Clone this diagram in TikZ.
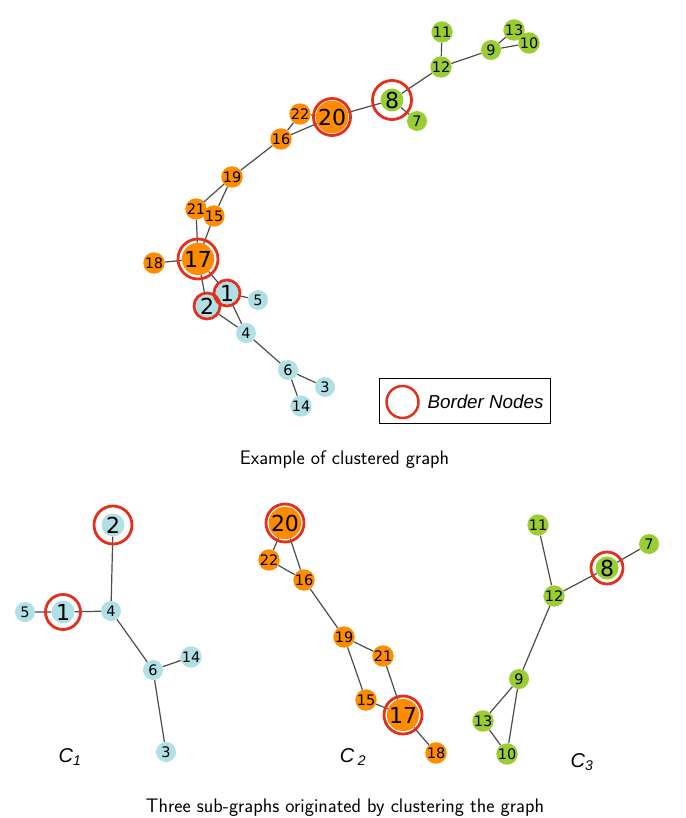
\documentclass[tikz,border=0pt]{standalone}
\usepackage{fontspec}
\newfontfamily\nodefont{DejaVu Sans}
\newfontfamily\legfont{Liberation Sans}
\usetikzlibrary{backgrounds}
\definecolor{pblue}{HTML}{B0E0E6}
\definecolor{dorange}{HTML}{FF8C00}
\definecolor{ygreen}{HTML}{9ACD32}
\definecolor{bred}{HTML}{E2301C}
\tikzset{
  vx/.style={circle,inner sep=0pt,minimum size=20pt,font=\nodefont\fontsize{14.5}{14.5}\selectfont},
  bx/.style={circle,inner sep=0pt,minimum size=23pt,font=\nodefont\fontsize{22}{22}\selectfont},
  cb/.style={fill=pblue}, co/.style={fill=dorange}, cg/.style={fill=ygreen},
  edge/.style={line width=1.2pt,black!70},
  ring/.style={draw=bred,line width=2.8pt},
  capt/.style={font=\sffamily\fontsize{19.6}{23}\selectfont},
  clab/.style={font=\legfont\itshape\fontsize{20}{22}\selectfont},
}

\begin{document}
\begin{tikzpicture}[x=1pt,y=-1pt]
  \useasboundingbox (0,0) rectangle (685,818);
  % ---- clustered graph ----
  \node[vx,cg] (m11) at (442,32) {11};
  \node[vx,cg] (m13) at (514,30) {13};
  \node[vx,cg] (m10) at (529,43) {10};
  \node[vx,cg] (m9) at (491,50) {9};
  \node[vx,cg] (m12) at (441,67) {12};
  \node[bx,cg] (m8) at (392,100) {8};
  \node[vx,cg] (m7) at (417,121) {7};
  \node[vx,co] (m22) at (300,114) {22};
  \node[bx,co] (m20) at (332,117) {20};
  \node[vx,co] (m16) at (281,139) {16};
  \node[vx,co] (m19) at (232,177) {19};
  \node[vx,co] (m21) at (196,209) {21};
  \node[vx,co] (m15) at (214,216) {15};
  \node[bx,co] (m17) at (198,259) {17};
  \node[vx,co] (m18) at (154,263) {18};
  \node[bx,cb] (m2) at (207,306) {2};
  \node[bx,cb] (m1) at (227,293) {1};
  \node[vx,cb] (m5) at (258,300) {5};
  \node[vx,cb] (m4) at (246,333) {4};
  \node[vx,cb] (m6) at (288,370) {6};
  \node[vx,cb] (m3) at (325,387) {3};
  \node[vx,cb] (m14) at (301,406) {14};
  \begin{scope}[on background layer]
    \draw[edge] (m11)--(m12) (m12)--(m9) (m9)--(m13) (m9)--(m10) (m13)--(m10)
      (m12)--(m8) (m8)--(m7) (m8)--(m20) (m20)--(m22) (m20)--(m16) (m22)--(m16)
      (m16)--(m19) (m19)--(m21) (m19)--(m15) (m21)--(m17) (m15)--(m17)
      (m17)--(m18) (m17)--(m2) (m17)--(m1) (m1)--(m5) (m1)--(m4) (m2)--(m4)
      (m4)--(m6) (m6)--(m3) (m6)--(m14);
  \end{scope}
  \draw[ring] (m8.center) circle[radius=19.5];
  \draw[ring] (m20.center) circle[radius=18.5];
  \draw[ring] (m17.center) circle[radius=20];
  \draw[ring] (m2.center) circle[radius=13];
  \draw[ring] (m1.center) circle[radius=13];
  % legend
  \node[draw,line width=0.8pt,minimum width=171pt,minimum height=45pt] (leg) at (464.5,400.5) {};
  \draw[ring,line width=2.5pt] (402.5,402) circle[radius=16];
  \node[clab,anchor=west,font=\legfont\itshape\fontsize{18.8}{22}\selectfont] (legtxt) at (424,402) {Border Nodes};
  \node[capt] (cap1) at (344.5,460) {Example of clustered graph};
  % ---- sub-graph C1 ----
  \node[bx,cb] (a2) at (113,525) {2};
  \node[vx,cb] (a5) at (25,612) {5};
  \node[bx,cb] (a1) at (63,612) {1};
  \node[vx,cb] (a4) at (111,611) {4};
  \node[vx,cb] (a6) at (153,670) {6};
  \node[vx,cb] (a14) at (191,657) {14};
  \node[vx,cb] (a3) at (166,752) {3};
  \begin{scope}[on background layer]
    \draw[edge] (a5)--(a1) (a1)--(a4) (a2)--(a4) (a4)--(a6) (a6)--(a14) (a6)--(a3);
  \end{scope}
  \draw[ring] (a2.center) circle[radius=19];
  \draw[ring] (a1.center) circle[radius=17.5];
  \node[clab] (lab1) at (70,757) {C\textsubscript{1}};
  % ---- sub-graph C2 ----
  \node[bx,co] (b20) at (285,523) {20};
  \node[vx,co] (b22) at (269,560) {22};
  \node[vx,co] (b16) at (304,580) {16};
  \node[vx,co] (b19) at (344,637) {19};
  \node[vx,co] (b21) at (383,656) {21};
  \node[vx,co] (b15) at (366,700) {15};
  \node[bx,co] (b17) at (403,715) {17};
  \node[vx,co] (b18) at (436,753) {18};
  \begin{scope}[on background layer]
    \draw[edge] (b20)--(b22) (b20)--(b16) (b22)--(b16) (b16)--(b19) (b19)--(b21)
      (b19)--(b15) (b21)--(b17) (b15)--(b17) (b17)--(b18);
  \end{scope}
  \draw[ring] (b20.center) circle[radius=19];
  \draw[ring] (b17.center) circle[radius=19];
  \node[clab] (lab2) at (353,757) {C\,\textsubscript{2}};
  % ---- sub-graph C3 ----
  \node[vx,cg] (c11) at (538,525) {11};
  \node[vx,cg] (c7) at (649,544) {7};
  \node[bx,cg] (c8) at (607,568) {8};
  \node[vx,cg] (c12) at (554,596) {12};
  \node[vx,cg] (c9) at (519,679) {9};
  \node[vx,cg] (c13) at (483,721) {13};
  \node[vx,cg] (c10) at (507,754) {10};
  \begin{scope}[on background layer]
    \draw[edge] (c11)--(c12) (c12)--(c8) (c8)--(c7) (c12)--(c9) (c9)--(c13)
      (c9)--(c10) (c13)--(c10);
  \end{scope}
  \draw[ring] (c8.center) circle[radius=16];
  \node[clab] (lab3) at (582,762) {C\textsubscript{3}};
  \node[capt] (cap2) at (345,808) {Three sub-graphs originated by clustering the graph};
\end{tikzpicture}
\end{document}
